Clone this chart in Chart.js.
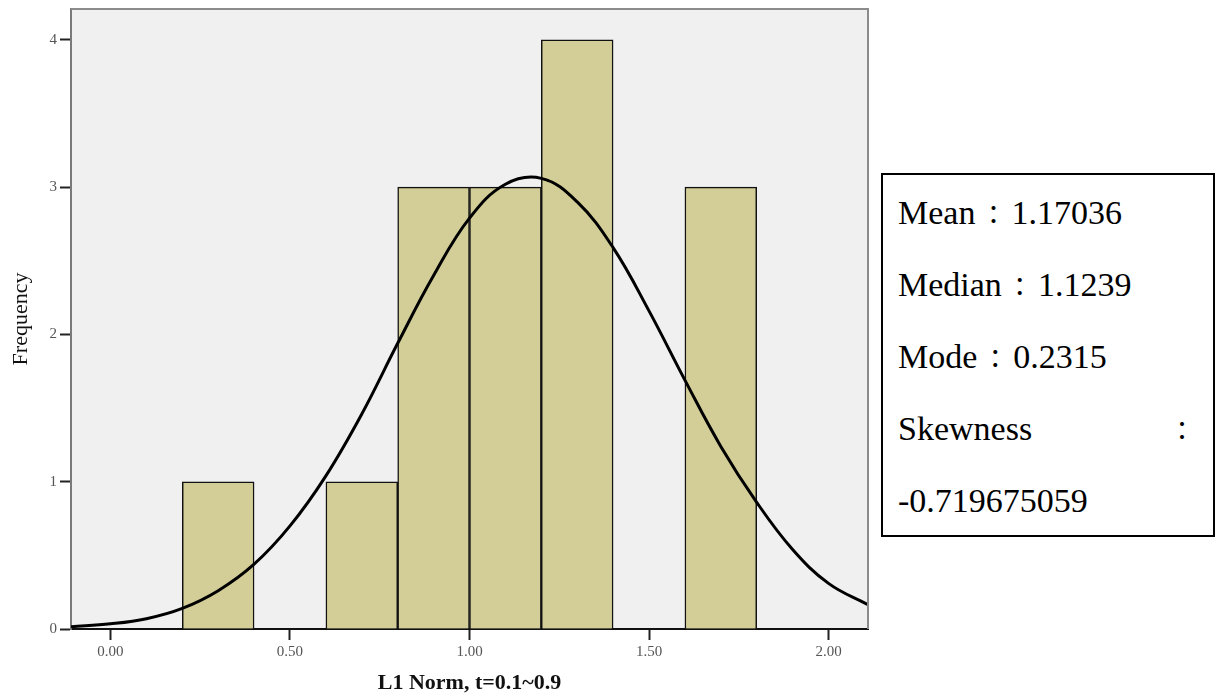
<!DOCTYPE html>
<html>
<head>
<meta charset="utf-8">
<script src="https://cdn.jsdelivr.net/npm/chart.js@4/dist/chart.umd.min.js"></script>
<style>
  html, body { margin: 0; padding: 0; background: #fff; }
  #wrap { position: relative; width: 1218px; height: 698px; }
  #c { position: absolute; left: 0; top: 0; }
  #stats {
    position: absolute; left: 881px; top: 173px; width: 334px; height: 364px;
    border: 2px solid #000; box-sizing: border-box; background: #fff;
    font-family: "Liberation Serif", serif; font-size: 34px; color: #000;
  }
  #stats .ln { position: absolute; left: 15px; right: 13px; height: 72px; line-height: 72px; white-space: nowrap; }
  #stats .sp { display: flex; justify-content: space-between; align-items: baseline; }
  #stats .col { font-family: "Noto Sans CJK TC", "Noto Sans CJK JP", sans-serif; font-size: 26px; padding: 0 5px; }
</style>
</head>
<body>
<div id="wrap">
  <canvas id="c" width="1218" height="698"></canvas>
  <div id="stats"></div>
</div>
<script>
// Histogram bins (centers) and frequencies
const binCenters = [0.3, 0.7, 0.9, 1.1, 1.3, 1.7];
const frequencies = [1, 1, 3, 3, 4, 3];
// Normal curve
const curveX = [-0.11, 0.0, 0.1, 0.2, 0.3, 0.4, 0.5, 0.6, 0.7, 0.8, 0.9, 1.0, 1.1, 1.2, 1.3, 1.4, 1.5, 1.6, 1.7, 1.8, 1.9, 2.0, 2.11];
const curveY = [0.015, 0.035, 0.07, 0.14, 0.26, 0.44, 0.70, 1.04, 1.46, 1.94, 2.40, 2.79, 3.02, 3.06, 2.90, 2.59, 2.16, 1.69, 1.24, 0.86, 0.54, 0.31, 0.165];
// Stats text
const statLines = [["Mean", "\uFF1A", "1.17036"], ["Median", "\uFF1A", "1.1239"], ["Mode", "\uFF1A", "0.2315"], ["Skewness", "\uFF1A"], ["-0.719675059"]];
const xTitle = "L1 Norm, t=0.1~0.9";
const yTitle = "Frequency";

// build stats box
const statsEl = document.getElementById('stats');
statLines.forEach((parts, i) => {
  const d = document.createElement('div');
  d.className = 'ln';
  d.style.top = (2 + i * 72) + 'px';
  if (parts.length === 2) {
    d.classList.add('sp');
  }
  parts.forEach(t => {
    const sp = document.createElement('span');
    sp.textContent = t;
    if (t === '\uFF1A') sp.className = 'col';
    d.appendChild(sp);
  });
  statsEl.appendChild(d);
});

const bgPlugin = {
  id: 'bg',
  beforeDraw(chart) {
    const a = chart.chartArea, ctx = chart.ctx;
    ctx.save();
    ctx.fillStyle = '#f0f0f0';
    ctx.fillRect(a.left, a.top, a.right - a.left, a.bottom - a.top);
    ctx.restore();
  },
  afterDraw(chart) {
    const a = chart.chartArea, ctx = chart.ctx;
    ctx.save();
    ctx.strokeStyle = '#8c8c8c';
    ctx.lineWidth = 2;
    ctx.beginPath();
    ctx.moveTo(a.left, a.top); ctx.lineTo(a.right, a.top); ctx.lineTo(a.right, a.bottom);
    ctx.stroke();
    ctx.restore();
  }
};

const tickFont = { family: "'Liberation Serif', serif", size: 15 };

new Chart(document.getElementById('c'), {
  data: {
    datasets: [
      {
        type: 'line',
        data: curveX.map((x, i) => ({ x: x, y: curveY[i] })),
        borderColor: '#000',
        borderWidth: 3,
        pointRadius: 0,
        tension: 0.4,
        fill: false,
        order: 0
      },
      {
        type: 'bar',
        data: binCenters.map((x, i) => ({ x: x, y: frequencies[i] })),
        backgroundColor: 'rgb(211,206,151)',
        borderColor: '#111',
        borderWidth: 1.5,
        barPercentage: 1,
        categoryPercentage: 1,
        order: 1
      }
    ]
  },
  options: {
    responsive: false,
    devicePixelRatio: 1,
    animation: false,
    layout: { padding: { top: 9, right: 350, left: 0, bottom: 0 } },
    plugins: { legend: { display: false }, tooltip: { enabled: false } },
    scales: {
      x: {
        type: 'linear',
        offset: false,
        min: -0.11,
        max: 2.11,
        afterFit(s) { s.height = 69; },
        ticks: {
          stepSize: 0.5,
          includeBounds: false,
          color: '#555',
          font: tickFont,
          padding: 3,
          maxRotation: 0,
          callback: v => Number(v).toFixed(2)
        },
        grid: { display: true, offset: false, drawOnChartArea: false, drawTicks: true, tickLength: 11, tickColor: '#222', tickWidth: 2 },
        border: { display: true, color: '#111', width: 2 },
        title: { display: true, text: xTitle, color: '#111', font: { family: "'Liberation Serif', serif", size: 22, weight: 'bold' }, padding: { top: 0, bottom: 1 } }
      },
      y: {
        type: 'linear',
        min: 0,
        max: 4.21,
        afterFit(s) { s.width = 71; s.paddingTop = 0; s.paddingBottom = 0; },
        ticks: {
          stepSize: 1,
          includeBounds: false,
          color: '#555',
          font: tickFont,
          padding: 3
        },
        grid: { display: true, drawOnChartArea: false, drawTicks: true, tickLength: 11, tickColor: '#222', tickWidth: 2 },
        border: { display: true, color: '#7a7a7a', width: 2 },
        title: { display: true, text: yTitle, color: '#111', font: { family: "'Liberation Serif', serif", size: 22 }, padding: { top: 8, bottom: 0 } }
      }
    }
  },
  plugins: [bgPlugin]
});
</script>
</body>
</html>
